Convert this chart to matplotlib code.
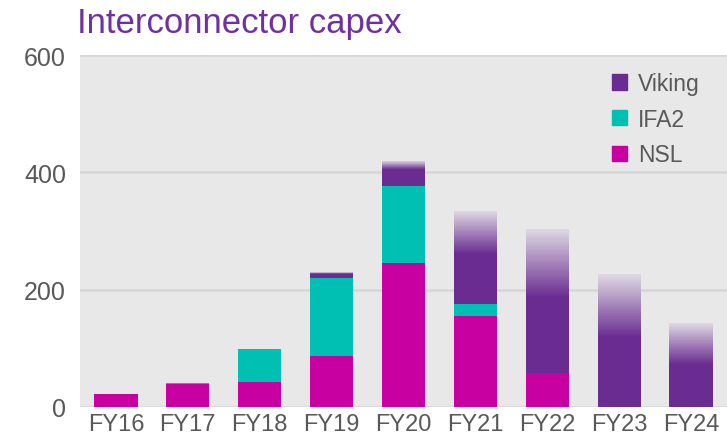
import matplotlib
matplotlib.use("Agg")
import matplotlib.pyplot as plt
from matplotlib.patches import Patch
from matplotlib.colors import to_rgb
import numpy as np

# chart data (GBP m)
years = ["FY16", "FY17", "FY18", "FY19", "FY20", "FY21", "FY22", "FY23", "FY24"]
nsl = [22, 39, 43, 87, 245, 155, 58, 0, 0]
ifa2 = [0, 2, 56, 133, 131, 20, 0, 0, 0]
viking = [0, 0, 0, 7, 29, 86, 129, 119, 73]
viking_range = [0, 0, 0, 3, 15, 73, 116, 106, 70]   # faded (uncertain) part on top
yticks = [0, 200, 400, 600]

c_nsl = "#C800A1"
c_ifa2 = "#00BFB3"
c_viking = "#6A2C91"
c_bg = "#E8E8E8"
c_text = "#595959"

plt.rcParams["font.family"] = ["Liberation Sans", "DejaVu Sans"]

fig = plt.figure(figsize=(7.27, 4.39), dpi=100)
ax = fig.add_axes([80 / 727, 1 - 408 / 439, 647 / 727, 352 / 439])
ax.set_facecolor(c_bg)

x = np.arange(len(years))
w = 0.6
nsl = np.array(nsl)
ifa2 = np.array(ifa2)
viking = np.array(viking)

ax.bar(x, nsl, w, color=c_nsl, linewidth=0, zorder=3)
ax.bar(x, ifa2, w, bottom=nsl, color=c_ifa2, linewidth=0, zorder=3)
ax.bar(x, viking, w, bottom=nsl + ifa2, color=c_viking, linewidth=0, zorder=3)

# gradient fade for the uncertain range: opaque slices blended into the background
purple = np.array(to_rgb(c_viking))
bg = np.array(to_rgb(c_bg))
n = 60
for i in range(len(years)):
    if viking_range[i] == 0:
        continue
    base = nsl[i] + ifa2[i] + viking[i]
    h = viking_range[i] / n
    for k in range(n):
        a = 1.0 - 0.92 * (k + 0.5) / n
        col = a * purple + (1 - a) * bg
        ax.bar(x[i], h * 1.6, w, bottom=base + k * h, color=col,
               linewidth=0, zorder=3 + k * 0.001)

ax.set_xlim(-0.5, len(years) - 0.5)
ax.set_ylim(0, 600)
ax.set_yticks(yticks)
ax.set_xticks(x)
ax.set_xticklabels(years)
ax.tick_params(axis="x", length=0, labelsize=17, colors=c_text, pad=4)
ax.tick_params(axis="y", length=0, labelsize=18, colors=c_text, pad=10)
for s in ax.spines.values():
    s.set_visible(False)
ax.yaxis.grid(True, color="#D6D6D6", linewidth=1.8, zorder=1)
ax.set_axisbelow(True)

handles = [Patch(color=c_viking, label="Viking"),
           Patch(color=c_ifa2, label="IFA2"),
           Patch(color=c_nsl, label="NSL")]
ax.legend(handles=handles, loc="upper right", frameon=False, fontsize=16.5,
          handlelength=0.65, handleheight=0.65, handletextpad=0.5,
          labelspacing=0.55, bbox_to_anchor=(0.99, 1.01), labelcolor=c_text)

fig.text(77 / 727, 1 - 33 / 439, "Interconnector capex", color="#7030A0",
         fontsize=25, va="baseline", ha="left")

fig.savefig("out.png", dpi=100)
